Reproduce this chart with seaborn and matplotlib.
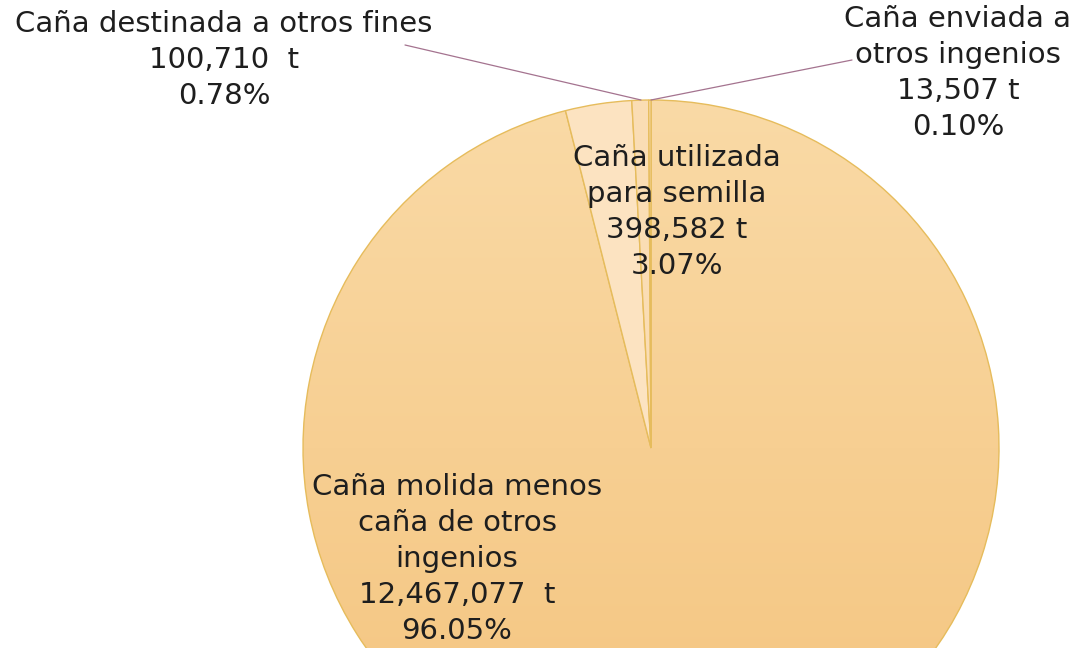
import numpy as np
import matplotlib
matplotlib.use("Agg")
import matplotlib.pyplot as plt
import seaborn as sns

# datos (toneladas de caña)
nombres = ["Caña molida menos\ncaña de otros\ningenios",
           "Caña utilizada\npara semilla",
           "Caña destinada a otros fines",
           "Caña enviada a\notros ingenios"]
toneladas = [12467077, 398582, 100710, 13507]
unidad = ["  t", " t", "  t", " t"]
colores = ["#F7CF92", "#FCE3C1", "#FADDB4", "#FBE2BE"]

sns.set_theme(style="white")
plt.rcParams["font.family"] = ["DejaVu Sans"]

W, H = 1076, 648
fig = plt.figure(figsize=(W / 100, H / 100), dpi=100)
ax = fig.add_axes([0, 0, 1, 1])

wedges, _ = ax.pie(toneladas, colors=colores, startangle=90, counterclock=False,
                   radius=1, center=(0, 0),
                   wedgeprops=dict(edgecolor="#E6BC5C", linewidth=1.0))

# degradado suave en la rebanada grande
grad = sns.blend_palette(["#FADAA6", "#F4C47E"], n_colors=256)
img = np.array(grad)[:, None, :]
wedges[0].set_facecolor("none")
im = ax.imshow(img, extent=(-1, 1, -1, 1), aspect="auto", zorder=0.5)
im.set_clip_path(wedges[0])

# centro del pastel en px (651, 448), radio 348 px
cx, cy, r = 651, 448, 348
ax.set_aspect("auto")
ax.set_xlim(-cx / r, (W - cx) / r)
ax.set_ylim(-(H - cy) / r, cy / r)
ax.axis("off")

total = sum(toneladas)
etiquetas = [f"{n}\n{t:,}{u}\n{100 * t / total:.2f}%"
             for n, t, u in zip(nombres, toneladas, unidad)]

def fpx(x, y):
    return x / W, 1 - y / H

pos = [(457, 559), (677, 212), (224, 60), (958, 73)]
for lab, (x, y) in zip(etiquetas, pos):
    ax.text(*fpx(x, y), lab, transform=ax.transAxes, ha="center", va="center",
            fontsize=21, color="#1E1E1E", linespacing=1.37, zorder=5)

# líneas guía
guia = "#A4738F"
ax.plot(*zip(fpx(405, 45), fpx(641, 100)), transform=ax.transAxes,
        color=guia, lw=0.9, zorder=4)
ax.plot(*zip(fpx(852, 60), fpx(651, 100)), transform=ax.transAxes,
        color=guia, lw=0.9, zorder=4)

fig.savefig("out.png", dpi=100)
